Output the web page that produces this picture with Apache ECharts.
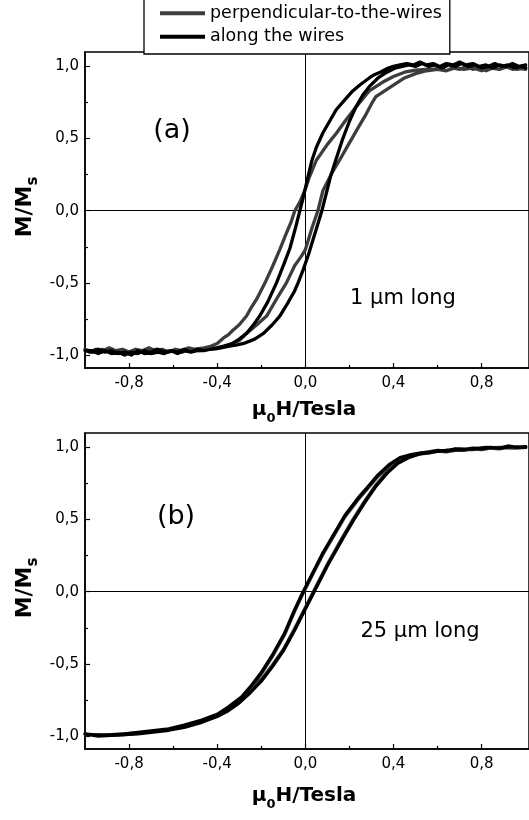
<!DOCTYPE html>
<html>
<head>
<meta charset="utf-8">
<script src="https://cdn.jsdelivr.net/npm/echarts@6/dist/echarts.min.js"></script>
<style>
html,body{margin:0;padding:0;background:#fff;}
#c{width:529px;height:820px;}
</style>
</head>
<body>
<div id="c"></div>
<script>
// ---------- DATA ----------
const seriesNames = ['perpendicular-to-the-wires', 'along the wires'];
const xMajorTicks = [-0.8, -0.4, 0, 0.4, 0.8];
const xMinorTicks = [-0.6, -0.2, 0.2, 0.6];
const yMajorTicks = [-1, -0.5, 0, 0.5, 1];
const yMinorTicks = [-0.75, -0.25, 0.25, 0.75];
const panelLabels = ['(a)', '(b)'];
const panelNotes = ['1 \u03bcm long', '25 \u03bcm long'];

// (a) 1 um long, along the wires: descending branch then ascending branch [H, M/Ms]
const alongA_desc = [[1.00,1.01],[0.97,1.00],[0.94,1.02],[0.91,1.00],[0.88,1.01],[0.85,0.99],[0.82,1.01],[0.79,1.00],[0.76,1.02],[0.73,1.01],[0.70,1.03],[0.67,1.01],[0.64,1.02],[0.61,1.00],[0.58,1.02],[0.55,1.01],[0.52,1.03],[0.49,1.01],[0.46,1.02],[0.43,1.01],[0.40,1.00],[0.37,0.985],[0.34,0.96],[0.31,0.94],[0.29,0.92],[0.25,0.875],[0.215,0.83],[0.18,0.77],[0.14,0.70],[0.11,0.62],[0.08,0.54],[0.05,0.44],[0.03,0.35],[0.005,0.19],[-0.01,0.09],[-0.025,0.0],[-0.045,-0.12],[-0.07,-0.26],[-0.10,-0.38],[-0.131,-0.50],[-0.17,-0.63],[-0.207,-0.73],[-0.24,-0.80],[-0.267,-0.85],[-0.30,-0.89],[-0.33,-0.92],[-0.37,-0.94],[-0.40,-0.95],[-0.43,-0.96],[-0.46,-0.97],[-0.49,-0.96],[-0.52,-0.98],[-0.55,-0.97],[-0.58,-0.99],[-0.61,-0.97],[-0.64,-0.98],[-0.67,-0.96],[-0.70,-0.98],[-0.73,-0.99],[-0.76,-0.97],[-0.79,-1.00],[-0.82,-0.98],[-0.85,-0.99],[-0.88,-0.97],[-0.91,-0.98],[-0.94,-0.96],[-0.97,-0.98],[-1.00,-0.97]];
const alongA_asc = [[-1.00,-0.96],[-0.97,-0.97],[-0.94,-0.99],[-0.91,-0.97],[-0.88,-0.99],[-0.85,-0.98],[-0.82,-1.00],[-0.79,-0.98],[-0.76,-0.99],[-0.73,-0.97],[-0.70,-0.99],[-0.67,-0.98],[-0.64,-0.99],[-0.61,-0.97],[-0.58,-0.98],[-0.55,-0.96],[-0.52,-0.98],[-0.49,-0.97],[-0.46,-0.97],[-0.43,-0.96],[-0.40,-0.955],[-0.35,-0.94],[-0.31,-0.93],[-0.28,-0.92],[-0.23,-0.89],[-0.19,-0.85],[-0.15,-0.79],[-0.116,-0.73],[-0.08,-0.64],[-0.05,-0.56],[-0.033,-0.50],[-0.01,-0.41],[0.015,-0.30],[0.035,-0.20],[0.055,-0.10],[0.075,0.0],[0.095,0.12],[0.115,0.24],[0.14,0.36],[0.17,0.50],[0.20,0.62],[0.23,0.72],[0.26,0.80],[0.29,0.86],[0.33,0.92],[0.37,0.96],[0.41,0.99],[0.44,1.00],[0.47,1.01],[0.50,1.00],[0.53,1.02],[0.56,1.00],[0.59,1.01],[0.62,0.99],[0.65,1.01],[0.68,1.00],[0.71,1.02],[0.74,1.00],[0.77,1.01],[0.80,0.99],[0.83,1.00],[0.86,1.02],[0.89,1.00],[0.92,1.01],[0.95,0.99],[0.98,1.00],[1.00,0.99]];

// (a) 1 um long, perpendicular to the wires
const perpA_desc = [[1.00,0.98],[0.97,0.99],[0.94,0.98],[0.91,1.00],[0.88,0.98],[0.85,0.99],[0.82,0.97],[0.79,0.99],[0.76,0.98],[0.73,1.00],[0.70,0.98],[0.67,0.99],[0.64,0.97],[0.61,0.99],[0.58,0.98],[0.55,0.98],[0.50,0.975],[0.45,0.96],[0.40,0.93],[0.35,0.89],[0.29,0.83],[0.23,0.72],[0.18,0.62],[0.14,0.535],[0.10,0.46],[0.05,0.35],[0.02,0.24],[0.0,0.15],[-0.025,0.06],[-0.048,0.0],[-0.065,-0.08],[-0.086,-0.156],[-0.116,-0.27],[-0.15,-0.39],[-0.183,-0.50],[-0.22,-0.61],[-0.245,-0.67],[-0.267,-0.73],[-0.30,-0.79],[-0.33,-0.83],[-0.35,-0.86],[-0.37,-0.88],[-0.40,-0.92],[-0.43,-0.94],[-0.46,-0.95],[-0.50,-0.96],[-0.53,-0.95],[-0.56,-0.97],[-0.59,-0.96],[-0.62,-0.98],[-0.65,-0.96],[-0.68,-0.97],[-0.71,-0.95],[-0.74,-0.97],[-0.77,-0.96],[-0.80,-0.98],[-0.83,-0.96],[-0.86,-0.97],[-0.89,-0.95],[-0.92,-0.97],[-0.95,-0.96],[-0.98,-0.98],[-1.00,-0.96]];
const perpA_asc = [[-1.00,-0.97],[-0.96,-0.98],[-0.92,-0.96],[-0.88,-0.98],[-0.84,-0.97],[-0.80,-0.99],[-0.76,-0.97],[-0.72,-0.98],[-0.68,-0.96],[-0.64,-0.98],[-0.60,-0.97],[-0.56,-0.98],[-0.52,-0.96],[-0.48,-0.97],[-0.45,-0.96],[-0.40,-0.95],[-0.35,-0.93],[-0.30,-0.90],[-0.267,-0.85],[-0.22,-0.79],[-0.176,-0.73],[-0.13,-0.61],[-0.086,-0.50],[-0.048,-0.38],[-0.02,-0.32],[0.0,-0.27],[0.03,-0.12],[0.057,0.0],[0.08,0.14],[0.12,0.26],[0.155,0.35],[0.185,0.43],[0.215,0.51],[0.245,0.59],[0.276,0.67],[0.30,0.74],[0.32,0.79],[0.36,0.83],[0.41,0.88],[0.45,0.92],[0.50,0.95],[0.55,0.97],[0.60,0.98],[0.64,0.97],[0.68,0.99],[0.72,0.98],[0.76,0.99],[0.80,0.97],[0.84,0.99],[0.88,0.98],[0.92,1.00],[0.96,0.98],[1.00,0.99]];

// (b) 25 um long, along the wires
const alongB_desc = [[1.00,1.005],[0.96,1.00],[0.92,1.01],[0.88,0.995],[0.84,1.00],[0.80,0.99],[0.76,0.995],[0.72,0.985],[0.68,0.99],[0.64,0.975],[0.60,0.98],[0.56,0.965],[0.52,0.96],[0.48,0.95],[0.43,0.93],[0.38,0.88],[0.33,0.81],[0.28,0.72],[0.24,0.65],[0.18,0.53],[0.13,0.40],[0.08,0.27],[0.03,0.12],[-0.01,0.0],[-0.05,-0.13],[-0.095,-0.29],[-0.15,-0.44],[-0.20,-0.56],[-0.25,-0.66],[-0.29,-0.73],[-0.35,-0.80],[-0.40,-0.85],[-0.47,-0.89],[-0.55,-0.925],[-0.62,-0.95],[-0.70,-0.965],[-0.76,-0.975],[-0.82,-0.985],[-0.88,-0.99],[-0.94,-0.995],[-1.00,-0.985]];
const alongB_asc = [[-1.00,-0.99],[-0.94,-1.00],[-0.88,-0.995],[-0.82,-0.99],[-0.76,-0.985],[-0.70,-0.975],[-0.62,-0.96],[-0.55,-0.94],[-0.47,-0.905],[-0.40,-0.865],[-0.35,-0.825],[-0.30,-0.77],[-0.25,-0.70],[-0.20,-0.62],[-0.15,-0.52],[-0.10,-0.41],[-0.05,-0.27],[0.0,-0.12],[0.04,0.0],[0.10,0.18],[0.17,0.37],[0.22,0.50],[0.27,0.62],[0.32,0.73],[0.37,0.82],[0.42,0.89],[0.47,0.93],[0.52,0.955],[0.58,0.97],[0.64,0.98],[0.70,0.985],[0.76,0.99],[0.82,1.00],[0.88,0.995],[0.94,1.005],[1.00,1.00]];

// (b) 25 um long, perpendicular to the wires
const perpB_desc = [[1.00,1.00],[0.96,0.995],[0.92,1.00],[0.88,0.99],[0.84,0.995],[0.80,0.985],[0.76,0.99],[0.72,0.98],[0.68,0.98],[0.64,0.97],[0.60,0.975],[0.56,0.96],[0.52,0.955],[0.48,0.945],[0.43,0.92],[0.38,0.87],[0.33,0.80],[0.28,0.71],[0.24,0.64],[0.18,0.52],[0.13,0.39],[0.08,0.26],[0.03,0.11],[-0.01,-0.01],[-0.05,-0.14],[-0.095,-0.30],[-0.15,-0.45],[-0.20,-0.57],[-0.25,-0.67],[-0.29,-0.74],[-0.35,-0.81],[-0.40,-0.86],[-0.47,-0.90],[-0.55,-0.93],[-0.62,-0.955],[-0.70,-0.97],[-0.76,-0.98],[-0.82,-0.99],[-0.88,-0.995],[-0.94,-0.99],[-1.00,-0.99]];
const perpB_asc = [[-1.00,-0.995],[-0.94,-0.99],[-0.88,-0.995],[-0.82,-0.985],[-0.76,-0.98],[-0.70,-0.97],[-0.62,-0.955],[-0.55,-0.935],[-0.47,-0.90],[-0.40,-0.86],[-0.35,-0.82],[-0.30,-0.76],[-0.25,-0.69],[-0.20,-0.61],[-0.15,-0.51],[-0.10,-0.40],[-0.05,-0.26],[0.0,-0.11],[0.04,0.01],[0.10,0.19],[0.17,0.38],[0.22,0.51],[0.27,0.63],[0.32,0.74],[0.37,0.83],[0.42,0.895],[0.47,0.935],[0.52,0.96],[0.58,0.975],[0.64,0.98],[0.70,0.99],[0.76,0.985],[0.82,0.995],[0.88,1.00],[0.94,0.995],[1.00,1.005]];

// ---------- CHART ----------
const FONT = 'DejaVu Sans';
const xMin = -1, xMax = 1.015, yMin = -1.09, yMax = 1.1;
const GRAY = '#3d3d3d', BLACK = '#000000';
const comma = v => (Math.abs(v) < 1e-9 ? 0 : v).toFixed(1).replace('.', ',');

const grids = [
  {left: 85, top: 52, width: 445, height: 316},
  {left: 85, top: 433, width: 445, height: 316}
];

const xAxes = [], yAxes = [];
grids.forEach((g, i) => {
  xAxes.push({
    type: 'value', gridIndex: i, min: xMin, max: xMax, position: 'bottom',
    axisLine: {show: true, onZero: false, lineStyle: {color: '#000', width: 1.5}},
    axisTick: {show: true, inside: true, length: 5, customValues: xMajorTicks, lineStyle: {color: '#000', width: 1.2}},
    axisLabel: {show: true, customValues: xMajorTicks, formatter: comma, margin: 8, color: '#000', fontSize: 15, fontFamily: FONT},
    splitLine: {show: false}
  });
  xAxes.push({
    type: 'value', gridIndex: i, min: xMin, max: xMax, position: 'bottom', offset: 0,
    axisLine: {show: false, onZero: false},
    axisTick: {show: true, inside: true, length: 3, customValues: xMinorTicks, lineStyle: {color: '#000', width: 1.2}},
    axisLabel: {show: false},
    splitLine: {show: false}
  });
  yAxes.push({
    type: 'value', gridIndex: i, min: yMin, max: yMax, position: 'left',
    axisLine: {show: true, onZero: false, lineStyle: {color: '#000', width: 1.5}},
    axisTick: {show: true, inside: true, length: 5, customValues: yMajorTicks, lineStyle: {color: '#000', width: 1.2}},
    axisLabel: {show: true, customValues: yMajorTicks, formatter: comma, margin: 6, color: '#000', fontSize: 15, fontFamily: FONT},
    splitLine: {show: false}
  });
  yAxes.push({
    type: 'value', gridIndex: i, min: yMin, max: yMax, position: 'left', offset: 0,
    axisLine: {show: false, onZero: false},
    axisTick: {show: true, inside: true, length: 3, customValues: yMinorTicks, lineStyle: {color: '#000', width: 1.2}},
    axisLabel: {show: false},
    splitLine: {show: false}
  });
});

function loop(name, desc, asc, color, panel, withMarks) {
  const s = {
    name: name, type: 'line', xAxisIndex: panel * 2, yAxisIndex: panel * 2,
    data: desc.concat(asc), showSymbol: false, symbol: 'none', smooth: false,
    lineStyle: {color: color, width: 3.3, join: 'round', cap: 'round'},
    itemStyle: {color: color}, z: color === BLACK ? 4 : 3, animation: false, silent: true
  };
  if (withMarks) {
    s.markLine = {
      silent: true, symbol: ['none', 'none'], label: {show: false},
      lineStyle: {color: '#000', width: 1, type: 'solid'},
      data: [{xAxis: 0}, {yAxis: 0}], z: 2, animation: false
    };
  }
  return s;
}

const series = [
  loop(seriesNames[0], perpA_desc, perpA_asc, GRAY, 0, true),
  loop(seriesNames[1], alongA_desc, alongA_asc, BLACK, 0, false),
  loop(seriesNames[0], perpB_desc, perpB_asc, GRAY, 1, true),
  loop(seriesNames[1], alongB_desc, alongB_asc, BLACK, 1, false)
];

function xTitle(y) {
  return {
    type: 'text', x: 304, y: y, silent: true,
    style: {
      text: '{m|\u03bc}{s|0}{m|H/Tesla}', align: 'center', verticalAlign: 'middle',
      rich: {
        m: {fontSize: 20, fontWeight: 'bold', fontFamily: FONT, fill: '#000', verticalAlign: 'top', lineHeight: 20},
        s: {fontSize: 13, fontWeight: 'bold', fontFamily: FONT, fill: '#000', verticalAlign: 'top', lineHeight: 13, padding: [12, 0, 0, 0]}
      }
    }
  };
}
function yTitle(y) {
  return {
    type: 'text', x: 25, y: y, rotation: Math.PI / 2, silent: true,
    style: {
      text: '{m|M/M}{s|s}', align: 'center', verticalAlign: 'middle',
      rich: {
        m: {fontSize: 22, fontWeight: 'bold', fontFamily: FONT, fill: '#000', verticalAlign: 'top', lineHeight: 22},
        s: {fontSize: 15, fontWeight: 'bold', fontFamily: FONT, fill: '#000', verticalAlign: 'top', lineHeight: 15, padding: [12, 0, 0, 0]}
      }
    }
  };
}
function note(text, x, y, size) {
  return {type: 'text', x: x, y: y, silent: true,
    style: {text: text, align: 'center', verticalAlign: 'middle', fontSize: size, fontFamily: FONT, fill: '#000'}};
}

const option = {
  backgroundColor: '#fff',
  animation: false,
  grid: grids.map(g => Object.assign({show: true, borderColor: '#000', borderWidth: 1.5, backgroundColor: 'transparent'}, g)),
  xAxis: xAxes,
  yAxis: yAxes,
  legend: {
    data: seriesNames.map(n => ({name: n, icon: 'rect'})),
    orient: 'vertical', left: 144, top: -6,
    itemWidth: 45, itemHeight: 4, itemGap: 5.5,
    padding: [10.25, 8, 8.25, 16],
    borderColor: '#000', borderWidth: 1.3, backgroundColor: '#fff',
    textStyle: {fontSize: 17.5, fontFamily: FONT, color: '#000'},
    selectedMode: false
  },
  series: series,
  graphic: [
    xTitle(410), xTitle(796),
    yTitle(207), yTitle(588),
    note(panelLabels[0], 172, 131, 27),
    note(panelLabels[1], 176, 517, 27),
    note(panelNotes[0], 403, 299, 21),
    note(panelNotes[1], 420, 632, 21)
  ]
};

const chart = echarts.init(document.getElementById('c'), null, {renderer: 'canvas'});
chart.setOption(option);
</script>
</body>
</html>
